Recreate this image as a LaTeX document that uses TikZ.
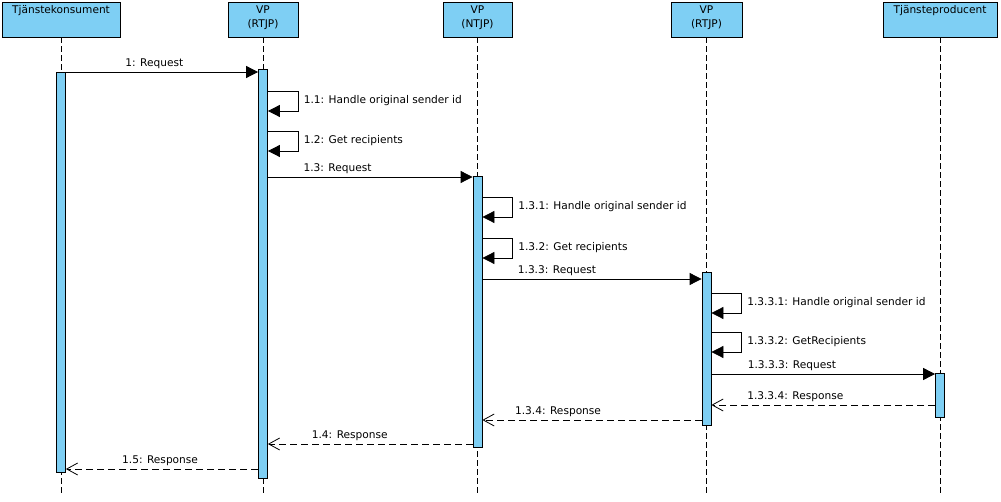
\documentclass[tikz,border=0pt]{standalone}
\usepackage{fontspec}
\setmainfont{DejaVu Sans}
\usepackage{tikz}
\usetikzlibrary{arrows.meta}
\definecolor{lifeblue}{RGB}{126,207,244}

\begin{document}
\begin{tikzpicture}[x=1pt, y=-1pt,
                    font=\fontsize{10.6}{14}\selectfont,
                    head/.style={draw, fill=lifeblue, line width=0.8pt, minimum height=35pt, inner sep=0pt},
                    head text/.style={anchor=north, inner sep=3.5pt, align=center},
                    lifeline/.style={draw, line width=0.8pt, dash pattern=on 6pt off 3pt},
                    bar/.style={draw, fill=lifeblue, line width=0.8pt, minimum width=9pt, inner sep=0pt, anchor=north},
                    call/.style={draw, line width=0.8pt, -{Triangle[length=12pt,width=12pt]}},
                    reply/.style={draw, line width=0.8pt, dash pattern=on 7pt off 4pt,
                        -{Straight Barb[length=11pt,width=12pt,line width=0.8pt]}},
                    msg/.style={above, inner sep=3pt},
                    loop msg/.style={right, inner sep=5.5pt}
                ]
    \useasboundingbox (0,0) rectangle (1001,502);

    % lifeline heads
    \node[head, minimum width=118pt] (tk) at (61,19.5) {};
    \node[head, minimum width=70pt] (rt) at (263,19.5) {};
    \node[head, minimum width=69pt] (nt) at (477.5,19.5) {};
    \node[head, minimum width=71pt] (rt2) at (706.5,19.5) {};
    \node[head, minimum width=114pt] (tp) at (940,19.5) {};
    \node[head text] (tk-t) at (tk.north) {Tjänstekonsument};
    \node[head text] (rt-t) at (rt.north) {VP\\(RTJP)};
    \node[head text] (nt-t) at (nt.north) {VP\\(NTJP)};
    \node[head text] (rt2-t) at (rt2.north) {VP\\(RTJP)};
    \node[head text] (tp-t) at (tp.north) {Tjänsteproducent};

    \foreach \h in {tk,rt,nt,rt2,tp}
        \draw[lifeline] (\h.south) -- (\h.south |- 0,495);

    % activations
    \node[bar, minimum height=400pt] (b1) at (tk.south |- 0,72) {};
    \node[bar, minimum height=409pt] (b2) at (rt.south |- 0,69) {};
    \node[bar, minimum height=271pt] (b3) at (nt.south |- 0,176) {};
    \node[bar, minimum height=153pt] (b4) at (rt2.south |- 0,272) {};
    \node[bar, minimum height=44pt] (b5) at (tp.south |- 0,373) {};

    % messages
    \draw[call] (b1.east |- 0,72) -- node[msg, pos=0.46] {1: Request} (b2.west |- 0,72);
    \draw[call] (b2.east |- 0,91) -- ++(30,0) |- node[loop msg, pos=0.25] {1.1: Handle original sender id} (b2.east |- 0,111);
    \draw[call] (b2.east |- 0,131) -- ++(30,0) |- node[loop msg, pos=0.25] {1.2: Get recipients} (b2.east |- 0,151);
    \draw[call] (b2.east |- 0,177) -- node[msg, pos=0.34] {1.3: Request} (b3.west |- 0,177);
    \draw[call] (b3.east |- 0,197) -- ++(30,0) |- node[loop msg, pos=0.25] {1.3.1: Handle original sender id} (b3.east |- 0,217);
    \draw[call] (b3.east |- 0,238) -- ++(30,0) |- node[loop msg, pos=0.25] {1.3.2: Get recipients} (b3.east |- 0,258);
    \draw[call] (b3.east |- 0,279) -- node[msg, pos=0.34] {1.3.3: Request} (b4.west |- 0,279);
    \draw[call] (b4.east |- 0,293) -- ++(30,0) |- node[loop msg, pos=0.25] {1.3.3.1: Handle original sender id} (b4.east |- 0,313);
    \draw[call] (b4.east |- 0,332) -- ++(30,0) |- node[loop msg, pos=0.25] {1.3.3.2: GetRecipients} (b4.east |- 0,352);
    \draw[call] (b4.east |- 0,374) -- node[msg, pos=0.36] {1.3.3.3: Request} (b5.west |- 0,374);
    \draw[reply] (b5.west |- 0,405) -- node[msg, pos=0.625] {1.3.3.4: Response} (b4.east |- 0,405);
    \draw[reply] (b4.west |- 0,420) -- node[msg, pos=0.655] {1.3.4: Response} (b3.east |- 0,420);
    \draw[reply] (b3.west |- 0,444) -- node[msg, pos=0.6] {1.4: Response} (b2.east |- 0,444);
    \draw[reply] (b2.west |- 0,469) -- node[msg, pos=0.51] {1.5: Response} (b1.east |- 0,469);
\end{tikzpicture}
\end{document}
